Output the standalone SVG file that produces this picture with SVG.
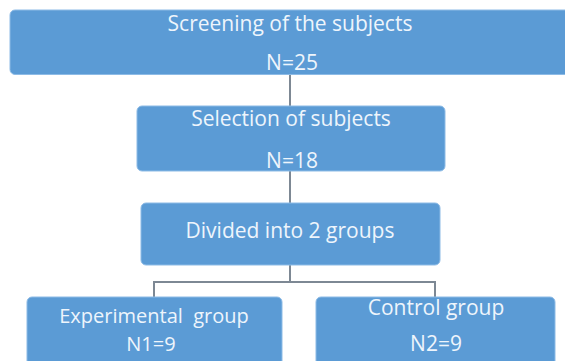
<svg xmlns="http://www.w3.org/2000/svg" width="565" height="361" viewBox="0 0 565 361">
  <style>
    .box { fill: #5b9bd5; stroke: #8dbbe6; stroke-width: 1; }
    .t { font-family: "Open Sans", "Liberation Sans", sans-serif; font-size: 21px; fill: #eef5fc; text-anchor: middle; white-space: pre; }
    .s { font-size: 20px; }
    .c { stroke: #7d8894; stroke-width: 2; fill: none; }
  </style>
  <rect width="565" height="361" fill="#ffffff"/>
  <g id="connectors">
    <line class="c" x1="290" y1="75" x2="290" y2="106"/>
    <line class="c" x1="290" y1="171" x2="290" y2="203"/>
    <line class="c" x1="290" y1="265" x2="290" y2="282"/>
    <polyline class="c" points="154,297 154,282 435,282 435,297"/>
  </g>
  <g id="screening">
    <rect class="box" x="10" y="10" width="565" height="64.5" rx="5"/>
    <text class="t" x="290" y="31">Screening of the subjects</text>
    <text class="t" x="292" y="70">N=25</text>
  </g>
  <g id="selection">
    <rect class="box" x="137" y="106" width="308" height="65" rx="5"/>
    <text class="t" x="291" y="126">Selection of subjects</text>
    <text class="t" x="292" y="168">N=18</text>
  </g>
  <g id="divided">
    <rect class="box" x="141" y="203" width="299" height="62" rx="5"/>
    <text class="t" x="290" y="238">Divided into 2 groups</text>
  </g>
  <g id="experimental">
    <rect class="box" x="27" y="297" width="255" height="70" rx="5"/>
    <text class="t s" x="154" y="323">Experimental  group</text>
    <text class="t s" x="151" y="350.5">N1=9</text>
  </g>
  <g id="control">
    <rect class="box" x="316" y="297" width="239" height="70" rx="5"/>
    <text class="t" x="436" y="315">Control group</text>
    <text class="t" x="436" y="351">N2=9</text>
  </g>
</svg>
